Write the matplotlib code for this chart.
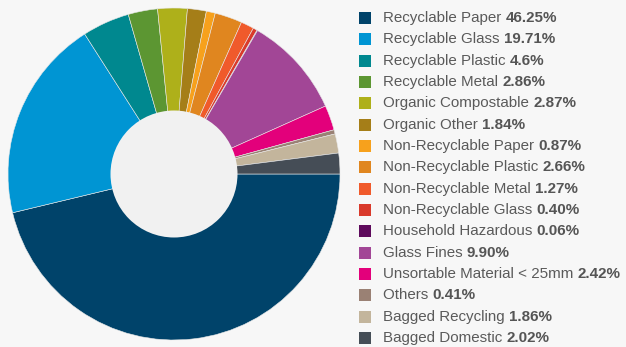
import matplotlib.pyplot as plt
from matplotlib.patches import Rectangle, Circle

# --------------------------------------
# Data
# --------------------------------------
categories = [
    "Recyclable Paper", "Recyclable Glass", "Recyclable Plastic", "Recyclable Metal",
    "Organic Compostable", "Organic Other", "Non-Recyclable Paper", "Non-Recyclable Plastic",
    "Non-Recyclable Metal", "Non-Recyclable Glass", "Household Hazardous", "Glass Fines",
    "Unsortable Material < 25mm", "Others", "Bagged Recycling", "Bagged Domestic",
]
shares = [46.25, 19.71, 4.6, 2.86, 2.87, 1.84, 0.87, 2.66,
          1.27, 0.40, 0.06, 9.90, 2.42, 0.41, 1.86, 2.02]
share_labels = ["46.25%", "19.71%", "4.6%", "2.86%", "2.87%", "1.84%", "0.87%", "2.66%",
                "1.27%", "0.40%", "0.06%", "9.90%", "2.42%", "0.41%", "1.86%", "2.02%"]
colors = ["#00436a", "#0095d3", "#00888f", "#5c9632", "#aeb01a", "#a57e18", "#f7a11c", "#e0861f",
          "#f05a2b", "#d93a2b", "#5e0a5c", "#a24696", "#e3007b", "#9a8174", "#c3b59c", "#454d56"]

BG = "#f7f7f7"
HOLE = "#f1f1f1"
TEXT = "#5a5a5a"

plt.rcParams["font.family"] = ["Liberation Sans", "DejaVu Sans"]

W, H = 626, 347
fig = plt.figure(figsize=(W / 100, H / 100), dpi=100, facecolor=BG)

# pie axes in pixel terms: centre (174, 174 from top), radius 166
cx, cy, r = 174, 174, 166
ax = fig.add_axes([(cx - r) / W, (H - cy - r) / H, 2 * r / W, 2 * r / H])
ax.set_facecolor(BG)
ax.pie(shares, colors=colors, startangle=0, counterclock=False, radius=1,
       wedgeprops=dict(edgecolor="#e8e8e8", linewidth=0.4))
ax.add_patch(Circle((0, 0), 63.5 / r, facecolor=HOLE, edgecolor="none", zorder=5))
ax.set_xlim(-1, 1)
ax.set_ylim(-1, 1)
ax.set_aspect("equal")
ax.axis("off")

# --------------------------------------
# Legend (drawn by hand: normal label + bold value)
# --------------------------------------
renderer = fig.canvas.get_renderer()
y0, step = 18, 21.33
for i, (name, val, col) in enumerate(zip(categories, share_labels, colors)):
    yc = y0 + i * step
    fig.patches.append(Rectangle(((359) / W, (H - yc - 6) / H), 12 / W, 12 / H,
                                 transform=fig.transFigure, facecolor=col,
                                 edgecolor="none"))
    t = fig.text(383 / W, (H - yc) / H, name + " ", fontsize=10.9, color=TEXT,
                 va="center", ha="left")
    bb = t.get_window_extent(renderer=renderer)
    fig.text(bb.x1 / W, (H - yc) / H, val, fontsize=10.9, color="#555555",
             fontweight="bold", va="center", ha="left")

fig.savefig("out.png", dpi=100, facecolor=BG)
